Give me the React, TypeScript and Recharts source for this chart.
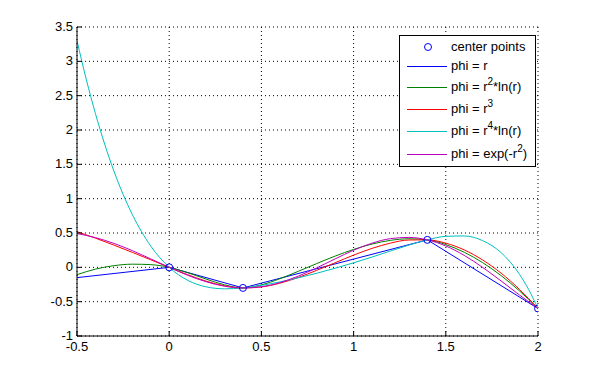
import React from 'react';
import { ComposedChart, Line, Scatter, XAxis, YAxis, CartesianGrid, Legend } from 'recharts';

const FONT = '"Liberation Sans", Arial, Helvetica, sans-serif';

// Tick labels
const xTicks = [-0.5, 0, 0.5, 1, 1.5, 2];
const yTicks = [-1, -0.5, 0, 0.5, 1, 1.5, 2, 2.5, 3, 3.5];

// Center points
const centerX = [0, 0.4, 1.4, 2];
const centerY = [0, -0.3, 0.4, -0.6];

// phi = r (piecewise linear)
const linearX = [-0.5, 0, 0.4, 1.4, 2];
const phiR = [-0.15, 0, -0.3, 0.4, -0.6];

// common sample positions
const gridX = [-0.5, -0.4, -0.3, -0.2, -0.1, 0, 0.1, 0.2, 0.3, 0.4, 0.5, 0.6, 0.7, 0.8, 0.9, 1.0, 1.1, 1.2, 1.3, 1.4, 1.5, 1.6, 1.7, 1.8, 1.9, 2.0];
const phiR2lnR = [-0.107, -0.026, 0.024, 0.046, 0.039, 0, -0.078, -0.171, -0.255, -0.3, -0.255, -0.166, -0.058, 0.055, 0.164, 0.261, 0.339, 0.393, 0.416, 0.4, 0.331, 0.219, 0.068, -0.121, -0.344, -0.6];
const phiR3 = [0.52, 0.425, 0.324, 0.218, 0.11, 0, -0.107, -0.201, -0.269, -0.3, -0.285, -0.231, -0.147, -0.044, 0.067, 0.178, 0.276, 0.353, 0.398, 0.4, 0.352, 0.254, 0.107, -0.085, -0.322, -0.6];
const phiExp = [0.492, 0.433, 0.349, 0.243, 0.123, 0, -0.115, -0.21, -0.275, -0.3, -0.283, -0.223, -0.128, -0.008, 0.123, 0.249, 0.352, 0.418, 0.436, 0.4, 0.311, 0.174, -0.001, -0.199, -0.404, -0.6];

// finer positions for the steep curve
const fineX = [-0.5, -0.45, -0.4, -0.3, -0.2, -0.1, 0, 0.1, 0.2, 0.3, 0.4, 0.5, 0.6, 0.7, 0.8, 0.9, 1.0, 1.1, 1.2, 1.3, 1.4, 1.5, 1.6, 1.7, 1.8, 1.9, 1.95, 2.0];
const phiR4lnR = [3.302, 2.74, 2.239, 1.403, 0.769, 0.31, 0, -0.189, -0.284, -0.313, -0.3, -0.263, -0.212, -0.153, -0.086, -0.013, 0.066, 0.15, 0.238, 0.324, 0.4, 0.451, 0.457, 0.388, 0.214, -0.103, -0.326, -0.6];

const legendItems = [
  { parts: ['center points'], color: '#0000FF', marker: true },
  { parts: ['phi = r'], color: '#0000FF' },
  { parts: ['phi = r', '2', '*ln(r)'], color: '#008000' },
  { parts: ['phi = r', '3'], color: '#FF0000' },
  { parts: ['phi = r', '4', '*ln(r)'], color: '#00BFBF' },
  { parts: ['phi = exp(-r', '2', ')'], color: '#BF00BF' },
];
const legendRowY = [11, 30, 51, 73, 95, 118];

const zip = (xs: number[], ys: number[]) => xs.map((x, i) => ({ x, y: ys[i] }));

const TICK = 5;

const BottomTick = (props: any) => {
  const { x, y, payload } = props;
  return (
    <g>
      <line x1={x} y1={y} x2={x} y2={y - TICK} stroke="#000" />
      <text x={x} y={y + 15} textAnchor="middle" fontSize={13} fontFamily={FONT} fill="#000">{String(payload.value)}</text>
    </g>
  );
};
const TopTick = (props: any) => {
  const { x, y } = props;
  return <line x1={x} y1={y} x2={x} y2={y + TICK} stroke="#000" />;
};
const LeftTick = (props: any) => {
  const { x, y, payload } = props;
  return (
    <g>
      <line x1={x} y1={y} x2={x + TICK} y2={y} stroke="#000" />
      <text x={x - 4} y={y + 4} textAnchor="end" fontSize={13} fontFamily={FONT} fill="#000">{String(payload.value)}</text>
    </g>
  );
};
const RightTick = (props: any) => {
  const { x, y } = props;
  return <line x1={x} y1={y} x2={x - TICK} y2={y} stroke="#000" />;
};

const LegendBox = () => (
  <div style={{ position: 'relative', width: 135, height: 130, border: '1px solid #000', background: '#fff', fontFamily: FONT, fontSize: 13, color: '#000' }}>
    {legendItems.map((it, i) => (
      <div key={i} style={{ position: 'absolute', left: 0, top: legendRowY[i] - 8, width: 135, height: 16, whiteSpace: 'nowrap' }}>
        {it.marker
          ? <div style={{ position: 'absolute', left: 24, top: 4, width: 6, height: 6, borderRadius: '50%', border: `1px solid ${it.color}` }} />
          : <div style={{ position: 'absolute', left: 7, top: 8, width: 40, height: 1, background: it.color }} />}
        <span style={{ position: 'absolute', left: 51, top: 0, lineHeight: '16px' }}>
          {it.parts.map((p, j) => j % 2 === 1
            ? <span key={j} style={{ fontSize: 10, position: 'relative', top: -6 }}>{p}</span>
            : <span key={j}>{p}</span>)}
        </span>
      </div>
    ))}
  </div>
);

export default function App() {
  return (
    <div style={{ position: 'absolute', left: 0, top: 0, width: 594, height: 377, background: '#fff' }}>
      <ComposedChart width={594} height={377} margin={{ top: 27, right: 56, bottom: 11, left: 37 }}>
        <CartesianGrid stroke="#000" strokeDasharray="1 3" />
        <XAxis xAxisId={0} dataKey="x" type="number" domain={[-0.5, 2]} ticks={xTicks} interval={0} height={30}
          axisLine={{ stroke: '#000' }} tickLine={false} tickSize={0} tickMargin={0} tick={<BottomTick />} allowDataOverflow />
        <XAxis xAxisId="top" orientation="top" dataKey="x" type="number" domain={[-0.5, 2]} ticks={xTicks} interval={0} height={0}
          axisLine={{ stroke: '#000' }} tickLine={false} tickSize={0} tickMargin={0} tick={<TopTick />} allowDataOverflow />
        <YAxis yAxisId={0} type="number" domain={[-1, 3.5]} ticks={yTicks} interval={0} width={40}
          axisLine={{ stroke: '#000' }} tickLine={false} tickSize={0} tickMargin={0} tick={<LeftTick />} allowDataOverflow />
        <YAxis yAxisId="right" orientation="right" type="number" domain={[-1, 3.5]} ticks={yTicks} interval={0} width={0}
          axisLine={{ stroke: '#000' }} tickLine={false} tickSize={0} tickMargin={0} tick={<RightTick />} allowDataOverflow />
        <Scatter data={zip(centerX, centerY)} dataKey="y" isAnimationActive={false}
          shape={(p: any) => <circle cx={p.cx} cy={p.cy} r={3.5} fill="none" stroke="#0000FF" />} />
        <Line data={zip(linearX, phiR)} dataKey="y" type="linear" stroke="#0000FF" strokeWidth={1} dot={false} activeDot={false} isAnimationActive={false} />
        <Line data={zip(gridX, phiR2lnR)} dataKey="y" type="monotone" stroke="#008000" strokeWidth={1} dot={false} activeDot={false} isAnimationActive={false} />
        <Line data={zip(gridX, phiR3)} dataKey="y" type="monotone" stroke="#FF0000" strokeWidth={1} dot={false} activeDot={false} isAnimationActive={false} />
        <Line data={zip(fineX, phiR4lnR)} dataKey="y" type="monotone" stroke="#00BFBF" strokeWidth={1} dot={false} activeDot={false} isAnimationActive={false} />
        <Line data={zip(gridX, phiExp)} dataKey="y" type="monotone" stroke="#BF00BF" strokeWidth={1} dot={false} activeDot={false} isAnimationActive={false} />
        <Legend layout="vertical" align="center" verticalAlign="middle" content={() => <LegendBox />}
          wrapperStyle={{ position: 'absolute', left: 399, top: 35, width: 137, height: 132, right: 'auto', bottom: 'auto' }} />
      </ComposedChart>
    </div>
  );
}
